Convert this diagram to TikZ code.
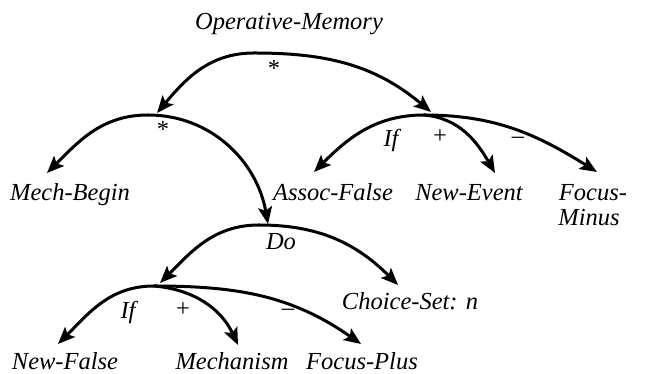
\documentclass[tikz,border=0pt]{standalone}
\usepackage{fontspec}
\setmainfont{Liberation Serif}
\usetikzlibrary{arrows.meta}
\begin{document}
\begin{tikzpicture}[x=1pt,y=1pt,
  arc/.style={line width=3pt, line cap=round, -{Stealth[length=17pt,width=14pt,inset=3.5pt]}},
  lbl/.style={font=\fontsize{24.5}{25}\selectfont\itshape, inner sep=0pt, anchor=base},
  sym/.style={font=\fontsize{24.5}{25}\selectfont, inner sep=0pt}]
\useasboundingbox (0,0) rectangle (646,374);
% junctions and arrow ends
\coordinate (A) at (254,321);
\coordinate (B) at (148,259);
\coordinate (tB) at (157,261);
\coordinate (C) at (424,259);
\coordinate (tC) at (431,262);
\coordinate (tMB) at (47,201);
\coordinate (D) at (259,149);
\coordinate (tD) at (268,150);
\coordinate (tAF) at (314,202);
\coordinate (tNE) at (495,201);
\coordinate (tFM) at (597,202);
\coordinate (E) at (154,88);
\coordinate (tE) at (160,91);
\coordinate (tCS) at (398,89);
\coordinate (tNF) at (58,30);
\coordinate (tMe) at (238,29);
\coordinate (tFP) at (361,30);
% labels
\node[lbl] (om) at (289,344) {Operative-Memory};
\node[lbl] (mb) at (70,173) {Mech-Begin};
\node[lbl] (af) at (333,173) {Assoc-False};
\node[lbl] (ne) at (469,173) {New-Event};
\node[lbl] (fm1) at (593,173) {Focus-};
\node[lbl] (fm2) at (589,148) {Minus};
\node[lbl] (cs) at (410,64) {Choice-Set: \textit{n}};
\node[lbl] (nf) at (65,4) {New-False};
\node[lbl] (me) at (232,4) {Mechanism};
\node[lbl] (fp) at (362,4) {Focus-Plus};
\node[lbl] (do) at (281,124) {Do};
\node[lbl] (if1) at (391,227) {If};
\node[lbl] (if2) at (128,55) {If};
\node[sym] (s1) at (274,306) {*};
\node[sym] (s2) at (163,245) {*};
\node[sym] (p1) at (440,237) {+};
\node[sym] (m1) at (518,234) {--};
\node[sym] (p2) at (183,64) {+};
\node[sym] (m2) at (288,62) {--};
% connectors
\draw[arc] (A) to[out=180,in=50] (tB);
\draw[arc] (A) to[out=0,in=140] (tC);
\draw[arc] (B) to[out=180,in=45] (tMB);
\draw[arc] (B) to[out=0,in=100] (tD);
\draw[arc] (C) to[out=180,in=45] (tAF);
\draw[arc] (C) to[out=-5,in=120] (tNE);
\draw[arc] (C) to[out=0,in=148] (tFM);
\draw[arc] (D) to[out=180,in=45] (tE);
\draw[arc] (D) to[out=0,in=135] (tCS);
\draw[arc] (E) to[out=180,in=45] (tNF);
\draw[arc] (E) to[out=-5,in=115] (tMe);
\draw[arc] (E) to[out=0,in=145] (tFP);
\end{tikzpicture}
\end{document}
